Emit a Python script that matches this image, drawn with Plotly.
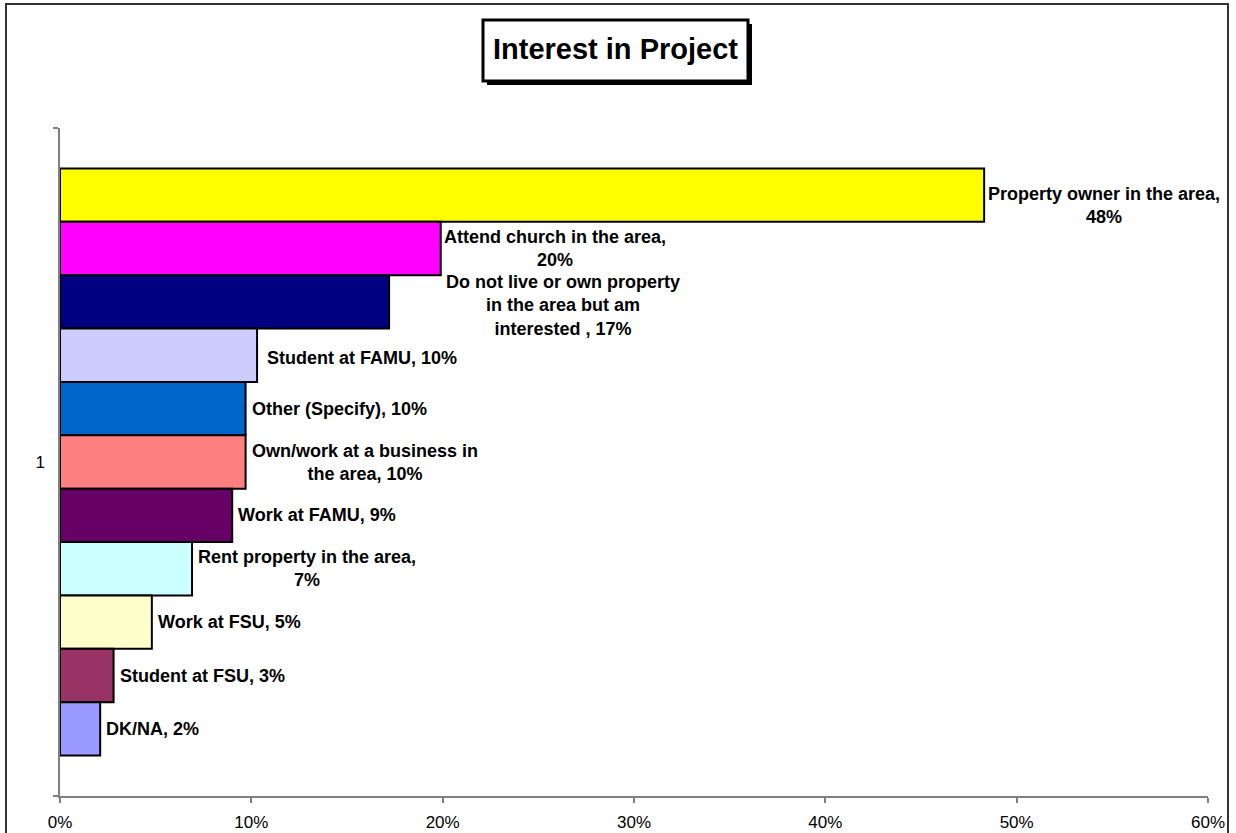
import plotly.graph_objects as go

category = ["1"]
series_names = [
    "Property owner in the area",
    "Attend church in the area",
    "Do not live or own property in the area but am interested",
    "Student at FAMU",
    "Other (Specify)",
    "Own/work at a business in the area",
    "Work at FAMU",
    "Rent property in the area",
    "Work at FSU",
    "Student at FSU",
    "DK/NA",
]
label_prefix = [
    "Property owner in the area,<br>",
    "Attend church in the area,<br>",
    "Do not live or own property<br>in the area but am<br>interested , ",
    "Student at FAMU, ",
    "Other (Specify), ",
    "Own/work at a business in<br>the area, ",
    "Work at FAMU, ",
    "Rent property in the area,<br>",
    "Work at FSU, ",
    "Student at FSU, ",
    "DK/NA, ",
]
values = [0.483, 0.199, 0.172, 0.103, 0.097, 0.097, 0.090, 0.069, 0.048, 0.028, 0.021]
colors = ["#FFFF00", "#FF00FF", "#000080", "#CCCCFF", "#0066CC", "#FF8080",
          "#660066", "#CCFFFF", "#FFFFCC", "#993366", "#9999FF"]
x_ticks = [0, 0.1, 0.2, 0.3, 0.4, 0.5, 0.6]
x_ticklabels = ["0%", "10%", "20%", "30%", "40%", "50%", "60%"]

# label nudges in pixels (style only)
label_dx = [4, 3, 57, 10, 6, 6, 6, 6, 6, 6, 6]
label_dy = [-10, 0, -4, -3, 0, 0, 0, 0, 0, 0, 0]

FONT = "Arial, Liberation Sans, sans-serif"
BARGAP = 0.121

fig = go.Figure()
for name, v, c in zip(series_names, values, colors):
    fig.add_trace(go.Bar(
        y=category, x=[v], orientation="h", name=name,
        marker=dict(color=c, line=dict(color="black", width=2)),
        showlegend=False, hoverinfo="x+name",
    ))

W, H = 1236, 833
L, R, T, B = 60, 28, 128, 37
pw, ph = W - L - R, H - T - B


def px(xp):
    return (xp - L) / pw


def py(yp):
    return (H - B - yp) / ph


shapes = [
    dict(type="rect", xref="paper", yref="paper", x0=px(6), x1=px(1228), y0=py(840), y1=py(4),
         line=dict(color="#333333", width=2), fillcolor="rgba(0,0,0,0)", layer="above"),
    dict(type="rect", xref="paper", yref="paper", x0=px(487), x1=px(752), y0=py(85), y1=py(24),
         line=dict(color="black", width=0), fillcolor="black", layer="above"),
    dict(type="rect", xref="paper", yref="paper", x0=px(483), x1=px(748), y0=py(81), y1=py(20),
         line=dict(color="black", width=3), fillcolor="white", layer="above"),
]

n = len(values)
slot = (1 - BARGAP) / n
annotations = [dict(
    text="Interest in Project", xref="paper", yref="paper",
    x=px(615.5), y=py(49.5), xanchor="center", yanchor="middle",
    showarrow=False, font=dict(family=FONT, size=29, color="black", weight="bold"),
)]
for i, (pre, v) in enumerate(zip(label_prefix, values)):
    annotations.append(dict(
        text=pre + f"{v:.0%}", x=v, y=-(1 - BARGAP) / 2 + (i + 0.5) * slot,
        xref="x", yref="y", xanchor="left", yanchor="middle", align="center",
        xshift=label_dx[i], yshift=label_dy[i], showarrow=False,
        borderpad=0, borderwidth=0,
        font=dict(family=FONT, size=18, color="black", weight="bold"),
    ))

fig.update_layout(
    width=W, height=H,
    margin=dict(l=L, r=R, t=T, b=B, autoexpand=False),
    paper_bgcolor="white", plot_bgcolor="white",
    barmode="group", bargap=BARGAP, bargroupgap=0,
    font=dict(family=FONT, size=17, color="black"),
    shapes=shapes,
    annotations=annotations,
    xaxis=dict(
        range=[0, 0.6], tickvals=x_ticks, ticktext=x_ticklabels,
        showline=True, linecolor="#808080", linewidth=1.5,
        ticks="outside", ticklen=5, tickcolor="#808080", tickwidth=1.5,
        showgrid=False, zeroline=False, ticklabelstandoff=5, automargin=False,
        tickfont=dict(family=FONT, size=17, color="black"),
    ),
    yaxis=dict(
        type="category", range=[0.5, -0.5],
        showline=True, linecolor="#808080", linewidth=1.5,
        ticks="outside", ticklen=5, tickcolor="#808080", tickwidth=1.5,
        tickson="boundaries", showgrid=False, zeroline=False, ticklabelstandoff=10,
        automargin=False,
        tickfont=dict(family=FONT, size=17, color="black"),
    ),
)

fig.write_html("out.html", config={"displayModeBar": False},
               post_script="document.body.style.margin='0';")
